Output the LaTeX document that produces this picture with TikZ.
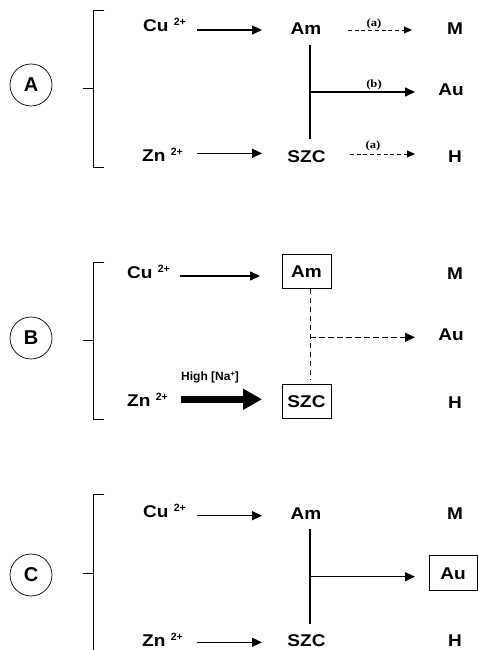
\documentclass[tikz,border=0pt]{standalone}
\usepackage{fontspec}
\setmainfont{Liberation Sans}
\newfontfamily\wide[FakeStretch=1.12]{Liberation Sans}
\newfontfamily\serifb[FakeStretch=1.15]{Liberation Serif}
\usetikzlibrary{arrows.meta}
\newcommand\ionch[1]{{\normalfont\fontsize{10.5}{10.5}\selectfont\bfseries\raisebox{6pt}{#1}}}
\newcommand\nasup[1]{{\fontsize{7.5}{7.5}\selectfont\raisebox{4pt}{#1}}}
\begin{document}
\begin{tikzpicture}[x=1pt,y=1pt,
  lbl/.style={font=\wide\fontsize{17}{17}\selectfont\bfseries, inner sep=0, anchor=base},
  ion/.style={lbl, anchor=base west},
  boxed/.style={draw, line width=1pt, minimum width=49pt, minimum height=34pt, inner sep=0, font=\wide\fontsize{17}{17}\selectfont\bfseries},
  arr/.style={line width=1.4pt, -{Triangle[length=10pt,width=9pt]}},
  darrA/.style={line width=0.9pt, dash pattern=on 4pt off 2.7pt, -{Triangle[length=8pt,width=7pt]}},
  dlineB/.style={line width=1pt, dash pattern=on 5.5pt off 3.5pt},
  darrB/.style={dlineB, -{Triangle[length=10pt,width=9pt]}},
  bigarr/.style={line width=6.5pt, -{Triangle[length=19pt,width=20pt]}},
  vline/.style={line width=1.2pt},
  circ/.style={circle, draw, line width=0.7pt, minimum size=42pt, inner sep=0, font=\fontsize{20}{20}\selectfont\bfseries},
  brk/.style={line width=0.9pt},
  small/.style={font=\serifb\fontsize{11}{11}\selectfont\bfseries, inner sep=0},
  na/.style={font=\fontsize{12}{12}\selectfont\bfseries, inner sep=0, anchor=base west},
]
\useasboundingbox (0,0) rectangle (478,650);

% ---------------- Panel A ----------------
\node[circ] (cA) at (31,565) {A};
\draw[brk] (104,640) -- (93,640) -- (93,483) -- (104,483);
\draw[brk] (83,562) -- (93,562);

\node[ion] (cuA) at (143,618) {Cu \ionch{2+}};
\node[lbl] (amA) at (306,615) {Am};
\node[lbl] (mA) at (455,615) {M};
\node[lbl] (auA) at (451,554) {Au};
\node[ion] (znA) at (142,488) {Zn \ionch{2+}};
\node[lbl] (szcA) at (306.5,487.7) {SZC};
\node[lbl] (hA) at (455,487) {H};

\coordinate (cuAo) at (197,620);   \coordinate (amAi) at (262,620);
\coordinate (amAo) at (348,620);   \coordinate (mAi) at (412,620);
\coordinate (amAd) at (310,605);   \coordinate (szcAu) at (310,511);
\coordinate (jA) at (310,558);     \coordinate (auAi) at (415,558);
\coordinate (znAo) at (197,496.7); \coordinate (szcAi) at (262,496.7);
\coordinate (szcAo) at (350,496);  \coordinate (hAi) at (415,496);

\draw[arr] (cuAo) -- (amAi);
\draw[darrA] (amAo) -- (mAi);
\node[small] (la1) at (374,626.5) {(a)};
\draw[vline] (amAd) -- (szcAu);
\draw[arr] (jA) -- (auAi);
\node[small] (lb) at (374,565) {(b)};
\draw[arr] (znAo) -- (szcAi);
\draw[darrA] (szcAo) -- (hAi);
\node[small] (la2) at (373,504) {(a)};

% ---------------- Panel B ----------------
\node[circ] (cB) at (31,312) {B};
\draw[brk] (104,388) -- (93,388) -- (93,231) -- (104,231);
\draw[brk] (83,310) -- (93,310);

\node[ion] (cuB) at (127,371.7) {Cu \ionch{2+}};
\node[boxed] (amB) at (306.5,378) {Am};
\node[lbl] (mB) at (455,370) {M};
\node[lbl] (auB) at (451,309) {Au};
\node[na] (hna) at (181,269.3) {High [Na\nasup{+}]};
\node[ion] (znB) at (127,243.3) {Zn \ionch{2+}};
\node[boxed] (szcB) at (306.5,248) {SZC};
\node[lbl] (hB) at (455,241) {H};

\coordinate (cuBo) at (180,374);   \coordinate (amBi) at (260,374);
\coordinate (amBd) at (310,361);   \coordinate (szcBu) at (310,270);
\coordinate (jB) at (310,312.7);   \coordinate (auBi) at (415,312.7);
\coordinate (znBo) at (181,250.7); \coordinate (szcBi) at (262,250.7);

\draw[arr] (cuBo) -- (amBi);
\draw[dlineB] (amBd) -- (szcBu);
\draw[darrB] (jB) -- (auBi);
\draw[bigarr] (znBo) -- (szcBi);

% ---------------- Panel C ----------------
\node[circ] (cC) at (31,75) {C};
\draw[brk] (104,155.7) -- (93,155.7) -- (93,0);
\draw[brk] (83,76.7) -- (93,76.7);

\node[ion] (cuC) at (143,132.7) {Cu \ionch{2+}};
\node[lbl] (amC) at (306,130.7) {Am};
\node[lbl] (mC) at (455,130.7) {M};
\node[boxed, minimum width=48pt, minimum height=35pt] (auC) at (453,76.5) {Au};
\node[ion] (znC) at (142,3.5) {Zn \ionch{2+}};
\node[lbl] (szcC) at (306.5,3.5) {SZC};
\node[lbl] (hC) at (455,3) {H};

\coordinate (cuCo) at (197,134.3); \coordinate (amCi) at (262,134.3);
\coordinate (amCd) at (310,121);   \coordinate (szcCu) at (310,25.7);
\coordinate (jC) at (310,73.3);    \coordinate (auCi) at (415,73.3);
\coordinate (znCo) at (197,7.7);   \coordinate (szcCi) at (262,7.7);

\draw[arr] (cuCo) -- (amCi);
\draw[vline] (amCd) -- (szcCu);
\draw[arr] (jC) -- (auCi);
\draw[arr] (znCo) -- (szcCi);
\end{tikzpicture}
\end{document}
